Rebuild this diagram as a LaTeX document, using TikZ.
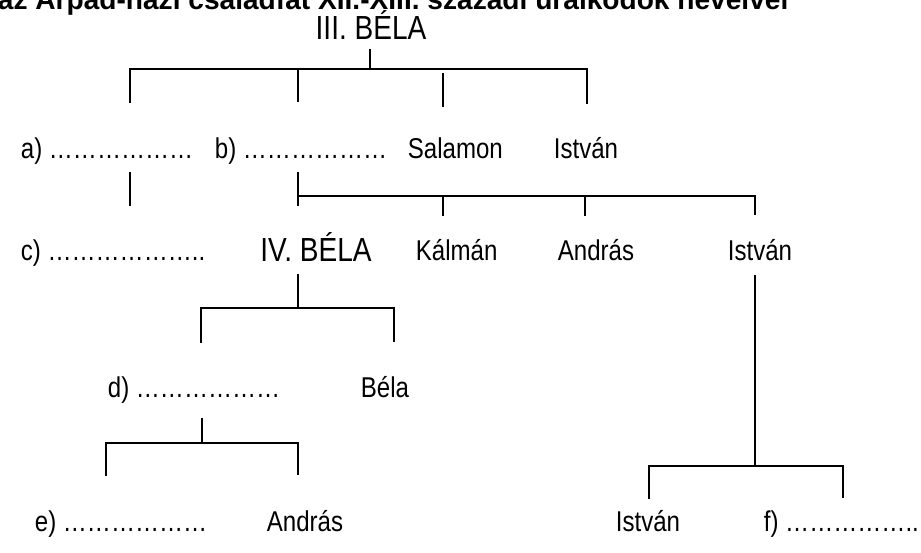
\documentclass[tikz,border=0pt]{standalone}
\usepackage{fontspec}
\setmainfont{Liberation Sans}
\newfontfamily\narrowfont[FakeStretch=0.84]{Liberation Sans}
\begin{document}
\begin{tikzpicture}[x=0.02cm,y=-0.02cm,line width=1pt,
    member/.style={anchor=base west,inner sep=0pt,font=\narrowfont\fontsize{16.3}{19}\selectfont},
    king/.style={anchor=base,inner sep=0pt,font=\narrowfont\fontsize{19}{22}\selectfont}]
  \useasboundingbox (0,0) rectangle (921,552);
  \clip (0,0) rectangle (921,552);
  % title, only its lower half is on the page
  \node[anchor=base west,inner sep=0pt,font=\bfseries\fontsize{16}{19}\selectfont] (title) at (-3,9)
    {az Árpád-házi családfát XII.-XIII. századi uralkodók neveivel};
  % first generation
  \node[king] (bela3) at (371,39) {III. BÉLA};
  \node[member] (a) at (20,158) {a) ………………};
  \node[member] (b) at (214,158) {b) ………………};
  \node[member] (salamon) at (407,158) {Salamon};
  \node[member] (istvan1) at (553,158) {István};
  % second generation
  \node[member] (c) at (20,260) {c) ………………..};
  \node[king] (bela4) at (316,261) {IV. BÉLA};
  \node[member] (kalman) at (415,260) {Kálmán};
  \node[member] (andras1) at (557,260) {András};
  \node[member] (istvan2) at (727,260) {István};
  % third and fourth generation
  \node[member] (d) at (107,397) {d) ………………};
  \node[member] (bela) at (360,397) {Béla};
  \node[member] (e) at (34,531) {e) ………………};
  \node[member] (andras2) at (266,531) {András};
  \node[member] (istvan3) at (615,531) {István};
  \node[member] (f) at (763,531) {f) ……………..};
  % junctions of the brackets
  \coordinate (j1) at (370,69);
  \coordinate (j2) at (298,196);
  \coordinate (j3) at (298,308);
  \coordinate (j4) at (202,443);
  \coordinate (j5) at (755,466);
  % III. Bela
  \draw ([yshift=-5pt]bela3.south -| j1) -- (j1);
  \draw (130,103) -- (130,69) -- (587,69) -- (587,104);
  \draw (298,69) -- (298,102);
  \draw (443,73) -- (443,107);
  % a) -- c)
  \draw (130,172) -- (130,206);
  % b)
  \draw (298,172) -- (298,206);
  \draw (j2) -- (755,196) -- (755,215);
  \draw (443,196) -- (443,216);
  \draw (585,196) -- (585,216);
  % IV. Bela
  \draw ([yshift=-7pt]bela4.south -| j3) -- (j3);
  \draw (201,343) -- (201,308) -- (394,308) -- (394,342);
  % d)
  \draw ([yshift=-8pt]d.south -| j4) -- (j4);
  \draw (106,476) -- (106,443) -- (298,443) -- (298,475);
  % Istvan
  \draw ([yshift=-8pt]istvan2.south -| j5) -- (j5);
  \draw (649,499) -- (649,466) -- (843,466) -- (843,498);
\end{tikzpicture}
\end{document}
